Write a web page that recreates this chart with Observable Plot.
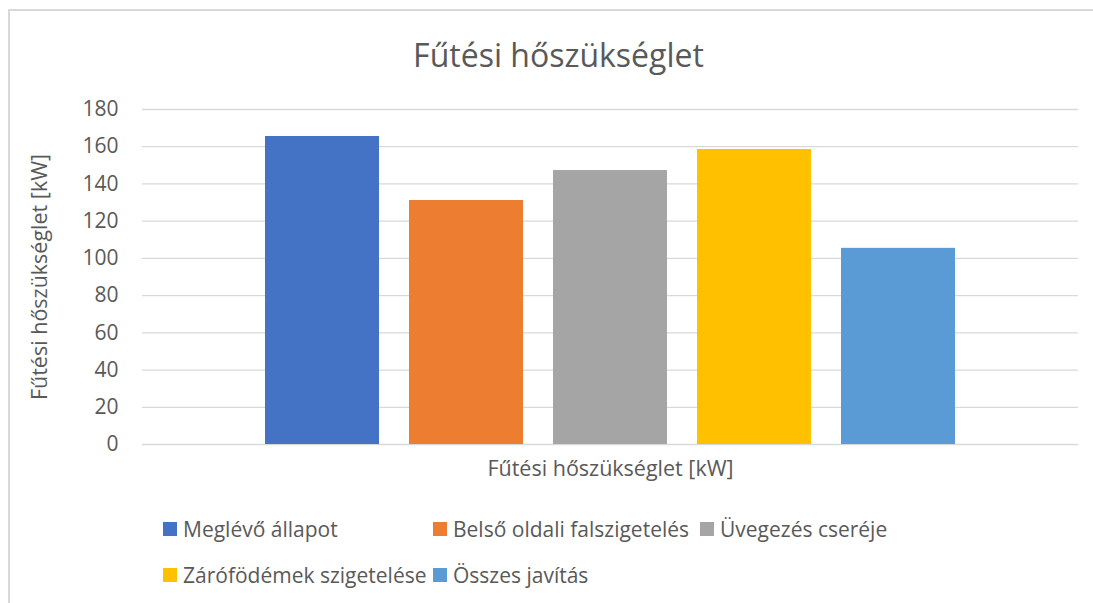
<!DOCTYPE html>
<html>
<head>
<meta charset="utf-8">
<script src="https://cdn.jsdelivr.net/npm/d3@7"></script>
<script src="https://cdn.jsdelivr.net/npm/@observablehq/plot@0.6"></script>
<style>
  html, body { margin: 0; padding: 0; background: #fff; }
  body { width: 1093px; height: 603px; overflow: hidden; position: relative; font-family: "Open Sans", "Noto Sans", sans-serif; color: #595959; }
  #frame { position: absolute; left: 8px; top: 9px; width: 1200px; height: 800px; border-top: 2px solid #d9d9d9; border-left: 2px solid #d9d9d9; box-sizing: border-box; }
  #title { position: absolute; left: 0; top: 35px; width: 1117px; text-align: center; font-size: 32px; line-height: 40px; }
  #chart { position: absolute; left: 0; top: 90px; }
  #legend { position: absolute; left: 163px; top: 514px; display: grid; grid-template-columns: 270px 267px auto; row-gap: 16px; font-size: 21px; line-height: 30px; }
  .item { display: flex; align-items: center; white-space: nowrap; }
  .sw { width: 14px; height: 14px; margin-right: 6px; flex: none; }
</style>
</head>
<body>
<div id="frame"></div>
<div id="title"></div>
<div id="chart"></div>
<div id="legend"></div>
<script>
const chartTitle = "Fűtési hőszükséglet";
const axisLabel = "Fűtési hőszükséglet [kW]";
const categories = ["Meglévő állapot", "Belső oldali falszigetelés", "Üvegezés cseréje", "Zárófödémek szigetelése", "Összes javítás"];
const values = [165.5, 131.1, 147.2, 158.5, 105.4];
const colors = ["#4472C4", "#ED7D31", "#A5A5A5", "#FFC000", "#5B9BD5"];
const yTicks = [0, 20, 40, 60, 80, 100, 120, 140, 160, 180];

const data = categories.map((name, i) => ({name, value: values[i]}));

document.getElementById("title").textContent = chartTitle;

const chart = Plot.plot({
  width: 1093,
  height: 410,
  marginLeft: 142,
  marginRight: 15,
  marginTop: 19,
  marginBottom: 56,
  style: {fontFamily: '"Open Sans", "Noto Sans", sans-serif', color: "#595959", background: "transparent"},
  x: {domain: categories, paddingInner: 0.208, paddingOuter: 0.854, axis: null},
  y: {domain: [0, 180], axis: null},
  color: {domain: categories, range: colors},
  marks: [
    Plot.gridY(yTicks, {stroke: "#d9d9d9", strokeOpacity: 1, strokeWidth: 1.3}),
    Plot.axisY(yTicks, {tickSize: 0, tickPadding: 24, fontSize: 21, label: null, fill: "#595959"}),
    Plot.barY(data, {x: "name", y: "value", fill: "name"}),
    Plot.text([axisLabel], {frameAnchor: "left", textAnchor: "middle", rotate: -90, dx: -102, text: d => d, fontSize: 21.5, fill: "#595959"}),
    Plot.text([axisLabel], {frameAnchor: "bottom", textAnchor: "middle", dy: 31, text: d => d, fontSize: 21.5, fill: "#595959"})
  ]
});
document.getElementById("chart").appendChild(chart);

const legend = document.getElementById("legend");
categories.forEach((name, i) => {
  const item = document.createElement("div");
  item.className = "item";
  const sw = document.createElement("span");
  sw.className = "sw";
  sw.style.background = colors[i];
  const label = document.createElement("span");
  label.textContent = name;
  item.appendChild(sw);
  item.appendChild(label);
  legend.appendChild(item);
});
</script>
</body>
</html>
